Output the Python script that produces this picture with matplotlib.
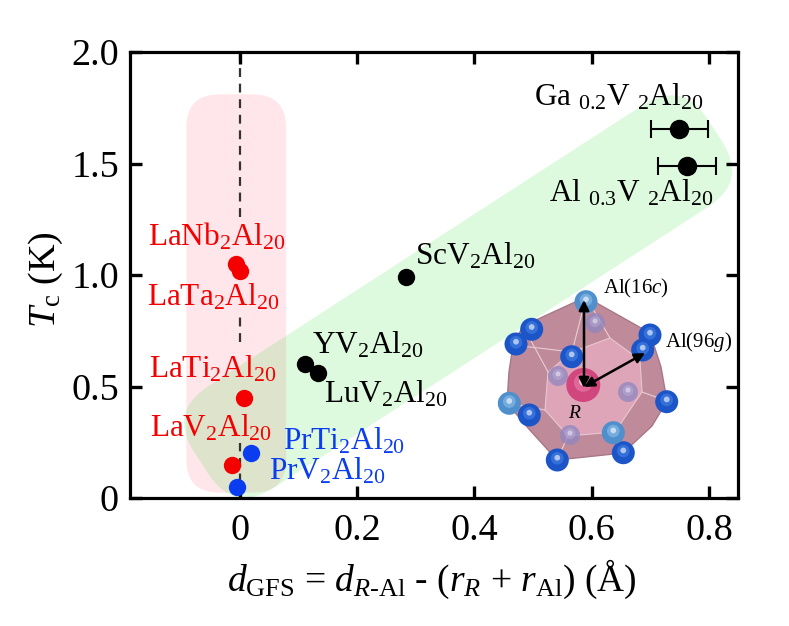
import numpy as np
import matplotlib
matplotlib.use("Agg")
import matplotlib.pyplot as plt
from matplotlib.patches import FancyBboxPatch, Polygon, Circle
from matplotlib.transforms import Affine2D

plt.rcParams['font.family'] = ['Liberation Serif', 'DejaVu Serif']
plt.rcParams['mathtext.fontset'] = 'custom'
plt.rcParams['mathtext.rm'] = 'Liberation Serif'
plt.rcParams['mathtext.it'] = 'Liberation Serif:italic'
plt.rcParams['mathtext.bf'] = 'Liberation Serif:bold'

# ---------------- data ----------------
red_names = ['LaNb$_2$Al$_{20}$', 'LaTa$_2$Al$_{20}$', 'LaTi$_2$Al$_{20}$', 'LaV$_2$Al$_{20}$']
red_x = [-0.006, 0.000, 0.007, -0.014]
red_y = [1.05, 1.02, 0.45, 0.15]

blue_names = ['PrTi$_2$Al$_{20}$', 'PrV$_2$Al$_{20}$']
blue_x = [0.020, -0.005]
blue_y = [0.20, 0.05]

black_names = ['YV$_2$Al$_{20}$', 'LuV$_2$Al$_{20}$', 'ScV$_2$Al$_{20}$']
black_x = [0.112, 0.134, 0.284]
black_y = [0.60, 0.56, 0.99]

err_names = ['Ga $_{0.2}$V $_2$Al$_{20}$', 'Al $_{0.3}$V $_2$Al$_{20}$']
err_x = [0.749, 0.762]
err_y = [1.655, 1.49]
err_dx = [0.049, 0.049]

x_ticks = [0, 0.2, 0.4, 0.6, 0.8]
x_ticklabels = ['0', '0.2', '0.4', '0.6', '0.8']
y_ticks = [0, 0.5, 1.0, 1.5, 2.0]
y_ticklabels = ['0', '0.5', '1.0', '1.5', '2.0']

# ---------------- layout ----------------
W, H = 789, 626
fig = plt.figure(figsize=(W / 100, H / 100), dpi=100)
ax = fig.add_axes([130 / W, 1 - 498 / H, 608 / W, 446 / H])
ax.set_xlim(-0.187, 0.849)
ax.set_ylim(0, 2.0)

RED = '#f50000'
BLUE = '#0a3cf0'

# label anchors (x, y, ha)
red_lab = [(-0.039, 1.131, 'center'), (-0.045, 0.865, 'center'),
           (-0.047, 0.541, 'center'), (-0.049, 0.278, 'center')]
blue_lab = [(0.074, 0.218, 'left'), (0.049, 0.081, 'left')]
black_lab = [(0.123, 0.649, 'left'), (0.143, 0.427, 'left'), (0.299, 1.045, 'left')]
err_lab = [(0.791, 1.762, 'right'), (0.807, 1.329, 'right')]


def rounded_box(ax, center, length_px, width_px, angle, radius, **kw):
    cx, cy = ax.transData.transform(center)
    p = FancyBboxPatch((-length_px / 2, -width_px / 2), length_px, width_px,
                       boxstyle=f"round,pad=0,rounding_size={radius}",
                       transform=Affine2D().rotate_deg(angle).translate(cx, cy),
                       linewidth=0, **kw)
    ax.add_patch(p)
    return p

# pink vertical region
pk_x0, pk_x1, pk_y0, pk_y1 = -0.091, 0.079, 0.024, 1.81
(px0, py0), (px1, py1) = ax.transData.transform([(pk_x0, pk_y0), (pk_x1, pk_y1)])
pc = ((pk_x0 + pk_x1) / 2, (pk_y0 + pk_y1) / 2)
rounded_box(ax, pc, px1 - px0, py1 - py0, 0, 33, facecolor='#ffe6ea', zorder=0.5)

# green diagonal band
rounded_box(ax, (0.372, 0.903), 612, 121, 32.9, 47.5,
            facecolor=(35 / 255, 222 / 255, 35 / 255), alpha=0.15, zorder=0.6)

# dashed vertical line at x = 0 (interrupted by labels)
for y0, y1 in [(1.26, 2.0), (0.70, 0.81), (0.0, 0.245)]:
    ax.plot([0, 0], [y0, y1], ls=(0, (4, 3)), color='#333333', lw=1.6, zorder=1)

ms = 12.5
ax.plot(red_x, red_y, 'o', color=RED, ms=ms, mew=0, zorder=3)
ax.plot(blue_x, blue_y, 'o', color=BLUE, ms=ms, mew=0, zorder=3)
ax.plot(black_x, black_y, 'o', color='k', ms=ms, mew=0, zorder=3)
ax.errorbar(err_x, err_y, xerr=err_dx, fmt='o', color='k', ms=ms, mec='k', mew=1.5,
            elinewidth=1.5, capsize=6.5, capthick=1.5, zorder=3)

fs_lab = 22.5
for names, labs, col in [(red_names, red_lab, RED), (blue_names, blue_lab, BLUE),
                         (black_names, black_lab, 'k'), (err_names, err_lab, 'k')]:
    for n, (lx, ly, ha) in zip(names, labs):
        ax.text(lx, ly, n, color=col, fontsize=fs_lab, ha=ha, va='baseline', zorder=4)

ax.set_xticks(x_ticks)
ax.set_xticklabels(x_ticklabels)
ax.set_yticks(y_ticks)
ax.set_yticklabels(y_ticklabels)
ax.tick_params(direction='in', length=8.5, width=2.4, top=True, right=True,
               labelsize=27.5, colors='k')
ax.tick_params(axis='x', pad=11)
ax.tick_params(axis='y', pad=8)
for s in ax.spines.values():
    s.set_linewidth(2.3)

fig.text(46 / W, 1 - 280 / H, r'$T_\mathrm{c}$ (K)', rotation=90, fontsize=27.5,
         ha='center', va='center')
fig.text(432 / W, 1 - 579 / H,
         r'$d_\mathrm{GFS}$ = $d_{R\text{-Al}}$ - ($r_R$ + $r_\mathrm{Al}$) (Å)',
         fontsize=27, ha='center', va='center')

# ---------------- inset: R-centred Al cage ----------------
ia = fig.add_axes([480 / W, 1 - 480 / H, 258 / W, 210 / H], zorder=5)
ia.set_xlim(480, 738)
ia.set_ylim(480, 270)
ia.axis('off')

outline = [(586, 297), (523, 326), (513, 345), (509, 372), (507, 403), (528, 428),
           (557, 460), (623, 453), (652, 426), (667, 401), (661, 367), (650, 333)]
inner = [(572, 352), (610, 338), (640, 360), (642, 392), (615, 432), (568, 436),
         (545, 410), (548, 372)]
ia.add_patch(Polygon(outline, closed=True, fc='#bf8a99', ec='#a8788a', lw=1, zorder=1))
ia.add_patch(Polygon(inner, closed=True, fc='#dea5b8', ec='#e6c8d2', lw=0.8, zorder=1.2))
for a, b in [((586, 297), (572, 352)), ((586, 297), (610, 338)), ((523, 326), (548, 372)),
             ((507, 403), (545, 410)), ((557, 460), (568, 436)), ((623, 453), (615, 432)),
             ((667, 401), (642, 392)), ((650, 333), (640, 360)), ((513, 345), (572, 352))]:
    ia.plot([a[0], b[0]], [a[1], b[1]], color='#e8cdd6', lw=0.8, zorder=1.3)

back = [(595, 323), (558, 376), (628, 392), (570, 435)]
front_dark = [(531.7, 329.3), (516, 344), (650, 335), (642.7, 350), (571.7, 356.7),
              (666.7, 401.7), (529.3, 415), (557.3, 460), (623.3, 452.7)]
front_light = [(586, 301.7), (509.3, 403.3), (613.3, 432.7)]


def sphere(c, r, col, hl, z, alpha=1.0):
    ia.add_patch(Circle(c, r, fc=col, ec='none', alpha=alpha, zorder=z))
    ia.add_patch(Circle((c[0], c[1] - r * 0.15), r * 0.55, fc=hl, ec='none',
                        alpha=0.5 * alpha, zorder=z + 0.01))
    ia.add_patch(Circle((c[0], c[1] - r * 0.2), r * 0.25, fc='white', ec='none',
                        alpha=0.6 * alpha, zorder=z + 0.02))

for c in back:
    sphere(c, 10, '#8f86c0', '#c0b8e0', 1.5, alpha=0.75)
sphere((583.3, 385), 17, '#d2467e', '#ef8ab2', 2)
for c in front_dark:
    sphere(c, 11.5, '#1c55c8', '#4d8be8', 3)
for c in front_light:
    sphere(c, 11.5, '#4f8fcc', '#9cc8ee', 3)

arrow_kw = dict(arrowstyle='<|-|>,head_length=0.6,head_width=0.3', color='k', lw=1.8,
                shrinkA=0, shrinkB=0)
ia.annotate('', xy=(584, 300), xytext=(584, 388), arrowprops=arrow_kw, zorder=6)
ia.annotate('', xy=(645, 353), xytext=(584, 387), arrowprops=arrow_kw, zorder=6)
ia.text(603, 293, 'Al(16$c$)', fontsize=15, ha='left', va='baseline', zorder=7)
ia.text(665, 347, 'Al(96$g$)', fontsize=15, ha='left', va='baseline', zorder=7)
ia.text(575, 418, '$R$', fontsize=14, ha='center', va='baseline', zorder=7)

fig.savefig('out.png', dpi=100)
